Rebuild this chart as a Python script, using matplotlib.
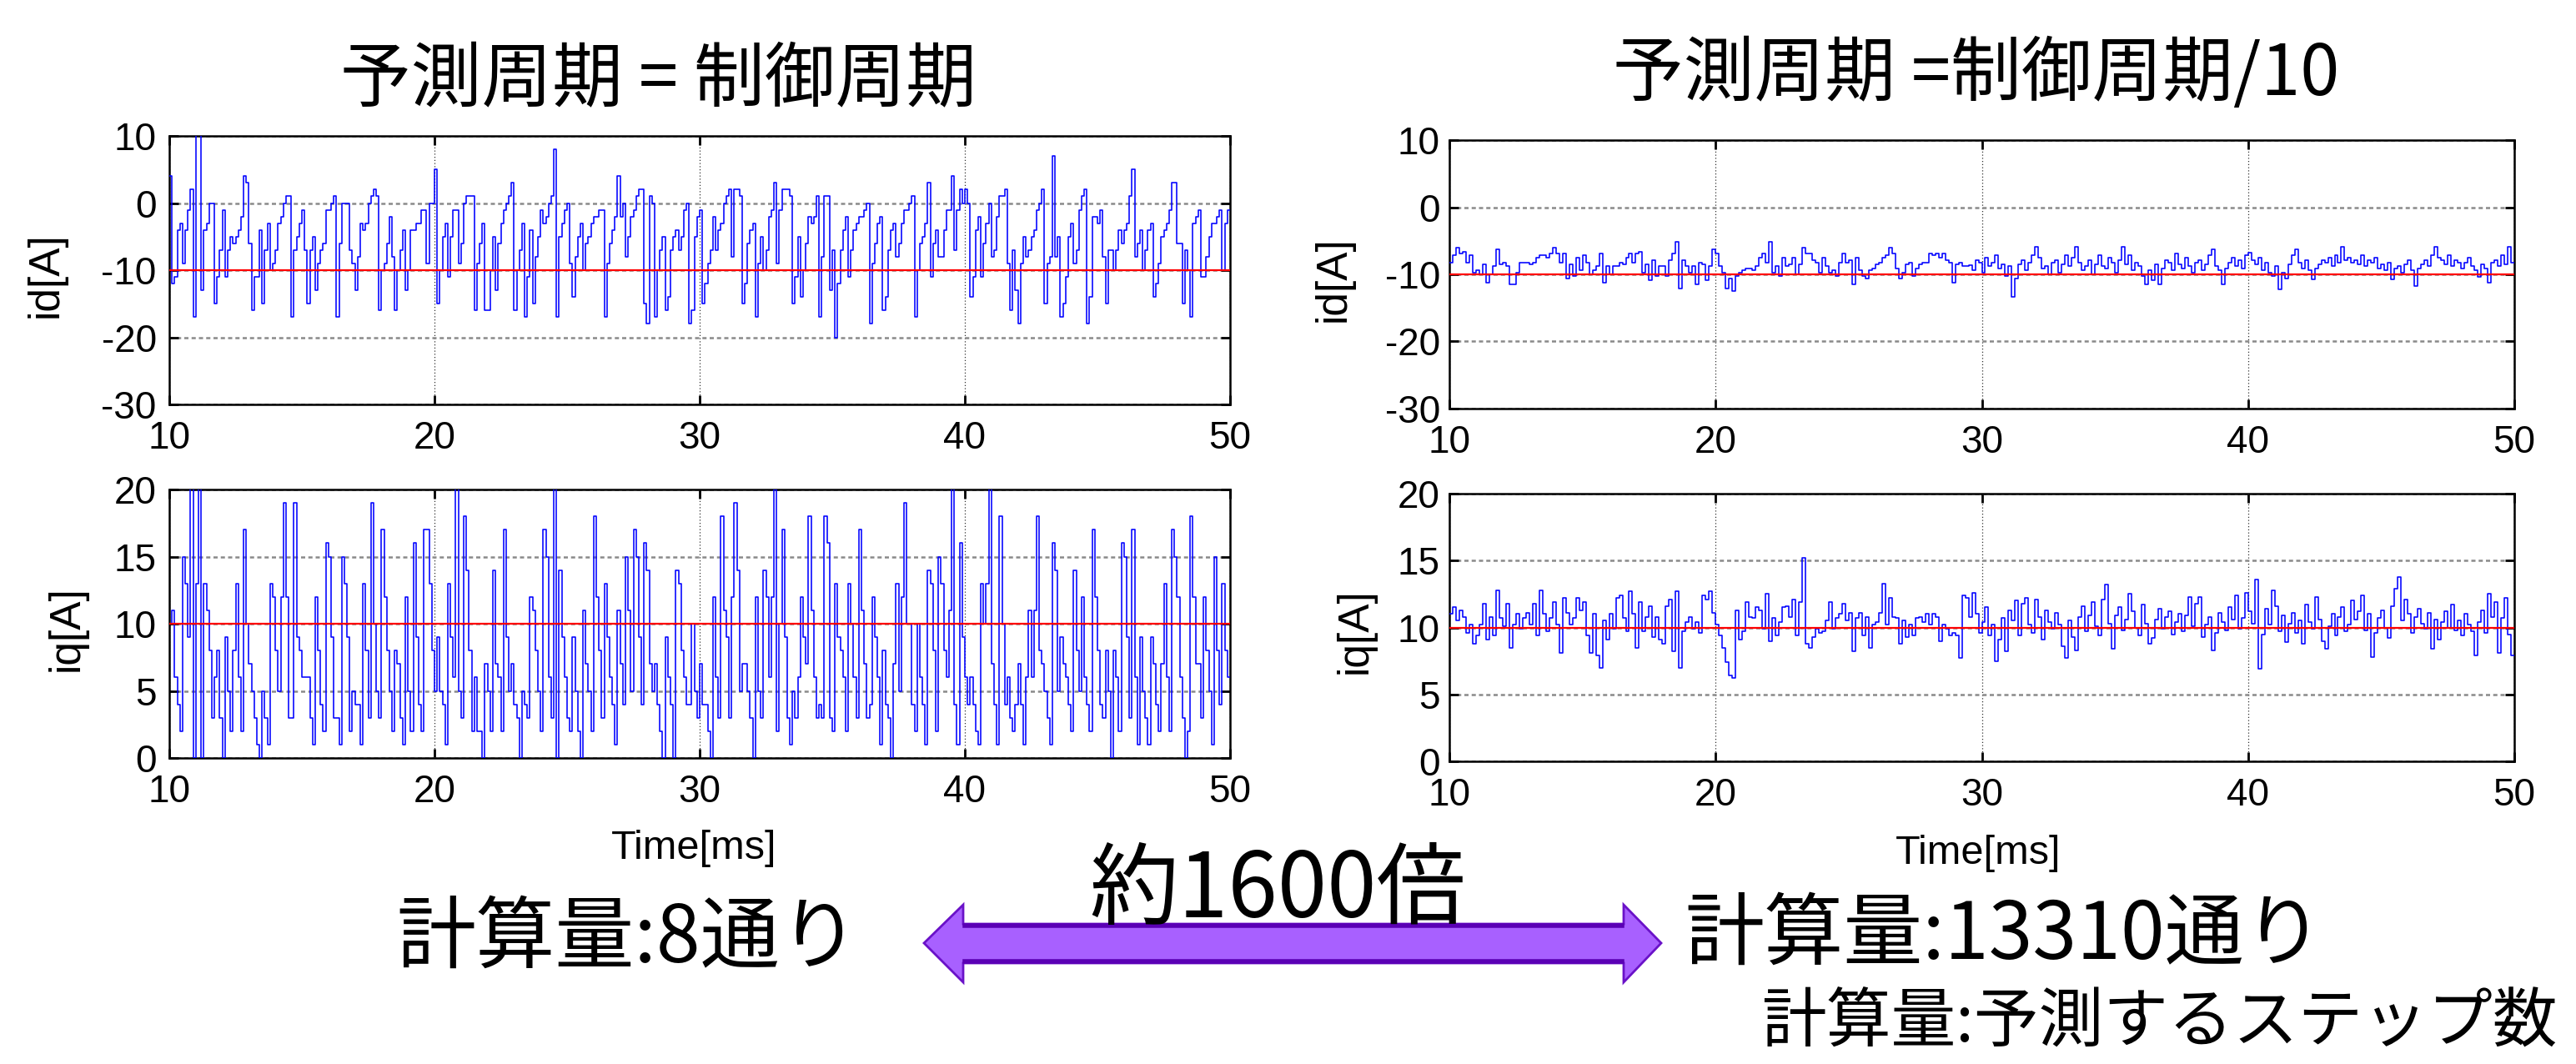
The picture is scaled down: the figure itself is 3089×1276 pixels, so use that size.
import numpy as np
import matplotlib
matplotlib.use("Agg")
import matplotlib.pyplot as plt
from matplotlib.patches import Polygon

# ---------------- data ----------------
t_start = 10.0
dt_left = 0.1      # ms, left column sampling
dt_right = 0.125   # ms, right column sampling

# 予測周期 = 制御周期 : id [A]
id_left = [
    4, -12, -11, -4, -3, -9, -4, -1, 2, -17,
    12, 12, -13, -4, -3, 0, 0, -15, -11, -7,
    -1, -11, -7, -5, -6, -5, -4, -2, 4, 3,
    -6, -16, -11, -11, -4, -15, -7, -3, -10, -9,
    -7, -3, -2, 0, 1, 1, -17, -7, -5, -3,
    -1, -7, -15, -7, -5, -13, -9, -7, -6, -1,
    -1, 0, 1, -17, -6, 0, 0, 0, -7, -9,
    -13, -8, -3, -4, -3, 0, 1, 2, 1, -16,
    -10, -9, -6, -2, -8, -16, -10, -7, -4, -13,
    -10, -4, -4, -3, -3, -1, -1, -9, 0, 0,
    5, -15, -10, -5, -3, -11, -5, -1, -1, -9,
    -6, 0, 1, 1, 1, -16, -9, -6, -3, -16,
    -16, -10, -5, -13, -6, -3, -1, 0, 1, 3,
    -16, -10, -7, -3, -17, -11, -4, -15, -8, -5,
    -1, -3, -2, 0, 1, 8, -17, -5, -3, -1,
    0, -9, -14, -8, -5, -3, -10, -6, -5, -3,
    -2, -2, -1, -1, -17, -9, -6, -4, -2, 4,
    -2, 0, -8, -5, -2, -1, 1, 2, 2, -15,
    -18, 1, 0, -17, -10, -7, -5, -16, -14, -7,
    -5, -4, -7, -5, -1, 0, -18, -16, -5, -2,
    -1, -15, -12, -9, -7, -2, -7, -4, -3, 0,
    1, 2, -8, 2, 2, 1, -15, -12, -6, -4,
    -3, -17, -9, -5, -10, -7, -2, -1, 3, -9,
    -1, 2, 2, 2, 1, -15, -11, -5, -14, -10,
    -6, -2, -3, -2, 1, -17, -8, 1, 1, -13,
    -7, -20, -12, -7, -4, -2, -11, -7, -4, -3,
    -2, -2, -1, 0, -18, -9, -6, -3, -2, -16,
    -14, -7, -4, -3, -8, -6, -3, -1, -1, 0,
    1, -17, -10, -6, -5, -3, 3, -11, -6, -4,
    -8, -8, -4, -1, -1, 4, -7, -1, 2, 0,
    2, 0, -14, -11, -4, -2, -11, -6, -3, 0,
    -8, -7, -2, 1, 1, 2, -9, -16, -7, -13,
    -18, -9, -5, -8, -7, -5, -4, -1, 0, 2,
    -15, -9, -8, 7, -8, -5, -17, -15, -11, -5,
    -3, -9, -7, -1, 1, 2, -18, -14, -2, -2,
    -3, -1, -8, -15, -7, -7, -10, -7, -4, -6,
    -4, -3, 1, 5, -8, -6, -4, -10, -7, -4,
    -3, -14, -12, -9, -5, -4, -3, -1, 3, 3,
    -6, -6, -15, -7, -10, -17, -3, -2, -1, -11,
    -11, -8, -5, -3, -3, -2, -1, -10, -3, -1,
]

# 予測周期 = 制御周期 : iq [A]
iq_left = [
    10, 11, 6, 4, 2, 15, 13, 9, 21, 0,
    13, 21, 0, 13, 11, 8, 3, 6, 8, 3,
    0, 9, 5, 2, 8, 13, 6, 2, 17, 10,
    7, 5, 3, 1, 0, 5, 3, 1, 13, 12,
    8, 5, 12, 19, 12, 3, 3, 19, 9, 8,
    6, 6, 6, 3, 1, 12, 8, 4, 2, 16,
    15, 9, 3, 3, 1, 15, 13, 9, 2, 5,
    4, 4, 1, 13, 8, 3, 19, 10, 5, 3,
    17, 12, 8, 5, 2, 8, 7, 3, 1, 12,
    5, 2, 16, 9, 4, 2, 17, 17, 13, 8,
    5, 9, 5, 4, 1, 13, 9, 6, 21, 5,
    3, 18, 14, 8, 2, 6, 2, 2, 0, 7,
    5, 2, 14, 7, 6, 2, 17, 9, 5, 7,
    4, 3, 0, 5, 4, 3, 12, 11, 8, 5,
    2, 17, 15, 6, 3, 21, 0, 14, 9, 6,
    3, 2, 9, 5, 2, 0, 11, 7, 5, 2,
    18, 12, 8, 3, 13, 9, 6, 4, 1, 11,
    7, 4, 15, 11, 5, 17, 15, 9, 4, 16,
    14, 7, 5, 7, 4, 2, 0, 9, 6, 4,
    0, 14, 13, 8, 6, 4, 4, 10, 5, 3,
    7, 4, 4, 2, 0, 12, 6, 3, 18, 11,
    9, 3, 12, 19, 14, 5, 7, 7, 5, 3,
    0, 12, 5, 3, 14, 12, 6, 12, 20, 2,
    10, 17, 9, 3, 1, 5, 3, 6, 12, 9,
    7, 18, 11, 6, 3, 4, 3, 18, 16, 3,
    2, 13, 9, 8, 6, 2, 13, 10, 6, 3,
    17, 11, 7, 3, 4, 12, 9, 6, 1, 8,
    4, 3, 0, 7, 13, 5, 12, 19, 10, 10,
    4, 2, 10, 6, 4, 1, 14, 13, 8, 2,
    15, 13, 8, 6, 11, 21, 4, 1, 16, 9,
    6, 4, 6, 4, 2, 1, 13, 10, 13, 21,
    7, 4, 1, 18, 10, 4, 6, 3, 2, 4,
    7, 4, 1, 6, 11, 6, 11, 18, 8, 7,
    5, 3, 1, 16, 14, 5, 9, 7, 6, 4,
    2, 14, 8, 5, 12, 6, 4, 2, 17, 12,
    8, 4, 3, 8, 5, 0, 8, 6, 2, 16,
    15, 9, 3, 17, 6, 1, 9, 5, 3, 1,
    9, 7, 4, 2, 7, 13, 6, 2, 17, 15,
    12, 6, 3, 0, 2, 18, 12, 7, 7, 3,
    12, 8, 5, 1, 15, 8, 4, 13, 8, 6,
]

# 予測周期 = 制御周期/10 : id [A]
id_right = [
    -8.2, -7.2, -6.0, -6.9, -6.6, -8.2, -7.2, -9.7, -9.4, -10.0,
    -8.5, -11.2, -10.0, -8.8, -6.3, -8.5, -8.2, -8.8, -11.5, -11.5,
    -9.7, -8.2, -8.2, -8.2, -8.5, -8.2, -7.5, -7.2, -7.2, -7.5,
    -6.9, -6.0, -6.9, -8.2, -6.9, -10.6, -8.5, -10.3, -7.5, -9.4,
    -7.2, -8.2, -10.0, -9.4, -8.8, -6.9, -11.2, -8.8, -10.0, -8.8,
    -8.8, -8.2, -8.5, -7.5, -6.9, -8.2, -6.9, -6.6, -9.7, -8.5,
    -10.9, -7.9, -10.3, -8.8, -8.8, -10.3, -7.9, -6.9, -5.1, -12.1,
    -7.9, -8.8, -9.7, -8.8, -11.5, -8.2, -8.5, -10.9, -8.8, -6.3,
    -6.9, -8.8, -9.7, -12.1, -10.6, -12.5, -10.3, -9.7, -9.4, -9.1,
    -9.1, -9.4, -8.8, -7.5, -6.9, -8.2, -5.1, -9.7, -8.8, -10.3,
    -7.5, -8.8, -8.5, -7.5, -10.0, -8.5, -6.0, -6.9, -6.9, -7.9,
    -8.2, -9.7, -7.5, -8.8, -9.7, -9.4, -10.3, -8.2, -6.9, -8.2,
    -7.9, -11.5, -7.5, -9.4, -10.3, -10.6, -9.4, -9.1, -8.5, -8.2,
    -7.5, -7.2, -6.0, -6.9, -9.1, -10.6, -9.7, -8.5, -8.2, -10.3,
    -9.1, -8.5, -8.2, -8.2, -6.9, -7.2, -6.9, -7.5, -6.9, -7.9,
    -8.2, -11.2, -8.5, -8.2, -8.8, -8.8,
    -8.6, -9.4, -7.9, -8.2, -9.7, -7.5, -8.8, -8.2,
    -7.2, -9.1, -8.5, -10.3, -8.8, -13.3, -10.6, -8.5,
    -7.9, -9.4, -8.2, -7.2, -5.9, -7.5, -9.1, -8.8,
    -10.0, -8.2, -7.9, -9.7, -8.5, -7.2, -8.8, -7.5,
    -5.9, -8.2, -9.4, -8.8, -7.9, -10.0, -8.5, -7.2,
    -8.8, -9.1, -7.5, -8.2, -9.7, -7.9, -5.9, -8.5,
    -7.2, -9.4, -8.2, -8.8, -10.3, -11.5, -9.4, -10.9,
    -8.5, -11.5, -9.1, -7.9, -8.2, -9.4, -6.9, -8.5,
    -9.1, -7.5, -8.8, -9.7, -8.2, -7.9, -9.4, -8.5,
    -7.2, -6.3, -8.8, -9.4, -11.5, -9.1, -8.2, -7.5,
    -8.8, -7.9, -9.1, -7.2, -6.8, -7.9, -8.5, -7.5,
    -9.4, -8.2, -9.7, -10.3, -8.8, -12.2, -9.7, -10.6,
    -8.5, -7.2, -6.3, -8.2, -9.1, -7.9, -9.4, -10.8,
    -9.1, -8.5, -7.9, -8.2, -7.5, -8.8, -7.2, -8.2,
    -5.9, -7.9, -7.5, -8.2, -7.9, -8.5, -7.2, -8.8,
    -7.9, -8.2, -7.5, -9.1, -8.5, -9.4, -8.2, -10.8,
    -9.1, -8.8, -9.7, -8.5, -7.9, -9.4, -11.8, -9.1,
    -8.5, -7.9, -8.8, -7.2, -5.9, -7.5, -7.9, -8.5,
    -7.2, -8.8, -7.9, -8.2, -9.1, -8.2, -7.5, -8.8,
    -9.4, -10.4, -8.5, -9.1, -11.3, -8.2, -7.9, -8.8,
    -7.2, -8.5, -5.9, -8.2,
]

# 予測周期 = 制御周期/10 : iq [A]
iq_right = [
    11.0, 11.5, 10.5, 11.3, 10.8, 9.6, 10.2, 8.8, 9.4, 10.2,
    11.8, 9.1, 10.8, 9.4, 12.8, 10.7, 10.1, 11.8, 8.5, 10.2,
    11.0, 9.9, 10.7, 11.1, 10.2, 11.8, 9.4, 12.8, 11.0, 9.75,
    10.7, 11.9, 10.2, 8.1, 12.2, 11.1, 10.2, 10.7, 12.2, 11.3,
    11.9, 9.4, 8.1, 11.0, 7.9, 7.0, 10.5, 9.1, 11.0, 9.9,
    12.2, 12.4, 10.7, 9.75, 12.7, 11.0, 8.5, 11.9, 9.75, 10.8,
    11.6, 9.3, 10.8, 9.1, 8.8, 11.6, 12.1, 8.2, 12.7, 7.0,
    9.75, 10.4, 10.8, 9.9, 10.4, 9.6, 12.4, 12.1, 12.7, 11.1,
    10.2, 9.4, 8.5, 7.4, 6.4, 6.2, 11.3, 9.1, 9.75, 11.9,
    10.8, 10.7, 11.5, 11.3, 9.9, 12.5, 9.0, 10.7, 9.4, 10.4,
    11.5, 11.6, 10.8, 12.1, 9.4, 11.9, 15.2, 8.8, 8.5, 9.3,
    9.9, 9.6, 9.75, 10.5, 11.9, 9.9, 10.7, 11.0, 11.8, 10.5,
    11.1, 8.2, 10.7, 11.1, 9.4, 10.8, 8.5, 10.2, 10.4, 11.1,
    13.3, 10.2, 12.2, 10.8, 10.7, 8.8, 10.5, 9.3, 10.2, 9.4,
    10.7, 10.8, 10.4, 11.0, 10.2, 11.0, 10.8, 9.0, 10.2, 9.9,
    9.4, 9.6, 9.4, 7.7, 12.4, 12.2,
    10.8, 12.6, 11.0, 9.6, 10.4, 11.5, 9.4, 10.2,
    7.5, 9.1, 10.7, 8.2, 11.3, 10.5, 12.0, 9.4,
    11.8, 12.2, 10.2, 9.6, 12.1, 10.8, 9.1, 11.3,
    10.4, 9.9, 11.1, 10.2, 8.6, 7.7, 10.5, 9.3,
    8.3, 10.8, 11.6, 9.7, 10.9, 11.9, 10.1, 9.4,
    12.1, 13.2, 10.3, 8.4, 10.9, 11.5, 9.8, 10.6,
    12.5, 11.2, 10.0, 9.4, 11.7, 10.3, 8.8, 9.2,
    10.6, 11.4, 9.9, 10.8, 11.2, 9.5, 10.4, 11.0,
    9.7, 10.9, 12.3, 10.1, 11.8, 12.3, 9.3, 10.2,
    10.8, 8.3, 9.6, 11.1, 10.4, 9.8, 11.5, 10.6,
    12.4, 9.9, 10.7, 12.6, 11.2, 10.3, 13.6, 6.9,
    9.5, 11.4, 10.2, 12.8, 11.6, 9.7, 10.9, 8.9,
    10.3, 11.1, 9.6, 10.5, 8.8, 11.7, 10.4, 9.9,
    12.3, 10.6, 9.0, 8.4, 10.1, 11.0, 9.4, 10.8,
    11.5, 9.7, 10.2, 12.0, 10.6, 11.2, 12.4, 9.8,
    11.0, 7.8, 9.6, 10.7, 11.3, 10.0, 9.2, 11.6,
    12.9, 13.8, 10.5, 12.1, 11.0, 9.6, 10.8, 11.4,
    10.3, 9.9, 11.1, 8.4, 10.6, 9.1, 10.4, 11.2,
    10.0, 11.7, 9.8, 10.5, 9.4, 11.0, 10.2, 9.7,
    7.9, 10.4, 11.3, 9.6, 12.5, 10.8, 11.9, 8.1,
    10.7, 12.2, 9.5, 7.9,
]

id_ref = -10
iq_ref = 10
x_ticks = [10, 20, 30, 40, 50]
id_ticks = [-30, -20, -10, 0, 10]
iq_ticks = [0, 5, 10, 15, 20]

title_left = "予測周期 = 制御周期"
title_right = "予測周期 =制御周期/10"
note_left = "計算量:8通り"
note_right = "計算量:13310通り"
note_ratio = "約1600倍"
note_def = "計算量:予測するステップ数"

# ---------------- figure ----------------
W, H = 3089, 1276
plt.rcParams["font.family"] = ["Liberation Sans", "Noto Sans CJK JP", "DejaVu Sans"]
plt.rcParams["axes.unicode_minus"] = False
fig = plt.figure(figsize=(W / 100, H / 100), dpi=100)
CJK = ["Noto Sans CJK JP", "DejaVu Sans"]


def frect(x0, y0, x1, y1):
    return [x0 / W, 1 - y1 / H, (x1 - x0) / W, (y1 - y0) / H]


def fx(x):
    return x / W


def fy(y):
    return 1 - y / H


def draw(rect, vals, dt, ref, ylim, yticks, ypad):
    ax = fig.add_axes(rect)
    v = np.asarray(vals, dtype=float)
    t = t_start + dt * np.arange(len(v))
    t = np.append(t, 50.0)
    v = np.append(v, v[-1])
    ax.step(t, v, where="post", color="#0000ff", lw=1.15, zorder=3)
    ax.axhline(ref, color="#ff0000", lw=1.6, zorder=4)
    ax.set_xlim(10, 50)
    ax.set_ylim(*ylim)
    ax.set_xticks(x_ticks)
    ax.set_yticks(yticks)
    ax.tick_params(direction="in", top=True, right=True, length=8, width=2,
                   labelsize=33)
    ax.tick_params(axis="x", pad=14)
    ax.tick_params(axis="y", pad=ypad)
    for s in ax.spines.values():
        s.set_linewidth(1.8)
    ax.xaxis.grid(True, color="#333333", ls=(0, (1, 2)), lw=0.9)
    ax.yaxis.grid(True, color="#8a8a8a", ls=(0, (2, 1.5)), lw=1.8)
    return ax


draw(frect(203, 163, 1475, 485), id_left, dt_left, id_ref, (-30, 10), id_ticks, 11)
draw(frect(203, 587, 1475, 909), iq_left, dt_left, iq_ref, (0, 20), iq_ticks, 11)
draw(frect(1738, 168, 3015, 490), id_right, dt_right, id_ref, (-30, 10), id_ticks, 8)
draw(frect(1738, 592, 3015, 913), iq_right, dt_right, iq_ref, (0, 20), iq_ticks, 8)

# titles
fig.text(fx(790), fy(120), title_left, family=CJK, fontsize=61,
         ha="center", va="baseline")
fig.text(fx(2370), fy(114), title_right, family=CJK, fontsize=61,
         ha="center", va="baseline")

# axis labels
fig.text(fx(55), fy(330), "id[A]", fontsize=37, rotation=90, ha="center", va="center")
fig.text(fx(80), fy(754), "iq[A]", fontsize=37, rotation=90, ha="center", va="center")
fig.text(fx(1599), fy(335), "id[A]", fontsize=37, rotation=90, ha="center", va="center")
fig.text(fx(1625), fy(757), "iq[A]", fontsize=37, rotation=90, ha="center", va="center")
fig.text(fx(832), fy(1018), "Time[ms]", fontsize=35, ha="center", va="center")
fig.text(fx(2372), fy(1024), "Time[ms]", fontsize=35, ha="center", va="center")

# double arrow
pts_px = [(1108, 1131), (1155, 1085), (1155, 1108), (1947, 1108), (1947, 1085),
          (1992, 1131), (1947, 1178), (1947, 1155), (1155, 1155), (1155, 1178)]
arrow = Polygon([(fx(x), fy(y)) for x, y in pts_px], closed=True,
                transform=fig.transFigure, facecolor="#a860ff",
                edgecolor="#6a12c8", lw=2.0, zorder=2)
fig.patches.append(arrow)
for yy in (1110, 1153):
    fig.add_artist(plt.Line2D([fx(1157), fx(1945)], [fy(yy), fy(yy)],
                              transform=fig.transFigure, color="#5a00b4",
                              lw=4.0, zorder=2.5))

# bottom notes
fig.text(fx(753), fy(1154), note_left, family=CJK, fontsize=68.5,
         ha="center", va="baseline", zorder=5)
fig.text(fx(1532), fy(1100), note_ratio, family=CJK, fontsize=77,
         ha="center", va="baseline", zorder=5)
fig.text(fx(2403), fy(1150), note_right, family=CJK, fontsize=68.5,
         ha="center", va="baseline", zorder=5)
fig.text(fx(2112), fy(1250), note_def, family=CJK, fontsize=56,
         ha="left", va="baseline", zorder=5)

fig.savefig("out.png", dpi=100, facecolor="white")
